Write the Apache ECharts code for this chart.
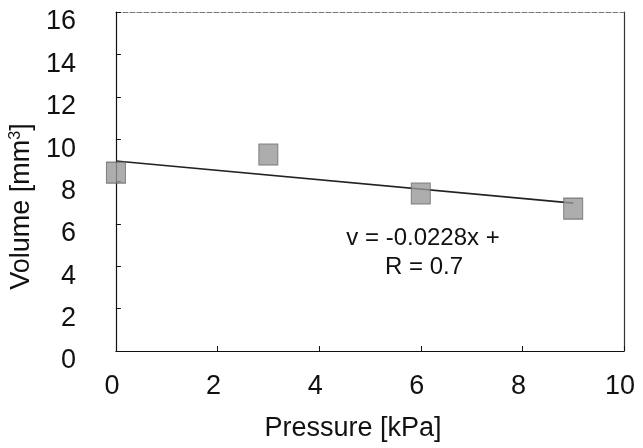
<!DOCTYPE html>
<html>
<head>
<meta charset="utf-8">
<script src="https://cdn.jsdelivr.net/npm/echarts@6/dist/echarts.min.js"></script>
<style>
  html, body { margin: 0; padding: 0; background: #fff; }
  #chart { width: 643px; height: 448px; }
</style>
</head>
<body>
<div id="chart"></div>
<script>
// measured points
const pressure = [0, 3, 6, 9];
const volume = [8.42, 9.27, 7.43, 6.72];

// trend line as drawn (end points)
const fitX = [0, 9];
const fitY = [8.97, 6.98];

const xTicks = [0, 2, 4, 6, 8, 10];
const yTicks = [0, 2, 4, 6, 8, 10, 12, 14, 16];

const eqLine1 = 'v = -0.0228x +';
const eqLine2 = 'R = 0.7';

const FONT = '"Liberation Sans", Arial, sans-serif';

const chart = echarts.init(document.getElementById('chart'), null, { renderer: 'canvas' });

const baseAxisLine = { show: true, onZero: false, lineStyle: { color: '#111', width: 1.2 } };

chart.setOption({
  animation: false,
  backgroundColor: '#fff',
  grid: { left: 115, right: 19, top: 12, bottom: 97 },
  xAxis: [{
    type: 'value', min: xTicks[0], max: xTicks[xTicks.length - 1], interval: 2,
    name: 'Pressure [kPa]', nameLocation: 'middle', nameGap: 64,
    nameTextStyle: { fontFamily: FONT, fontSize: 27, color: '#111', padding: [0, 34, 0, 0] },
    axisLine: baseAxisLine,
    axisTick: { show: true, inside: true, length: 5, lineStyle: { color: '#111' } },
    splitLine: { show: false },
    axisLabel: { fontFamily: FONT, fontSize: 27, color: '#111', margin: 22, padding: [0, 8, 0, 0] }
  }, {
    type: 'value', position: 'top', min: 0, max: 10,
    axisLine: { show: true, onZero: false, lineStyle: { color: '#777', width: 1, type: [5, 2] } },
    axisTick: { show: false }, axisLabel: { show: false }, splitLine: { show: false }
  }],
  yAxis: [{
    type: 'value', min: yTicks[0], max: yTicks[yTicks.length - 1], interval: 2,
    name: '{n|Volume [mm}{s|3}{n|]}', nameLocation: 'middle', nameGap: 74, nameRotate: 90,
    nameTextStyle: {
      padding: [0, 50, 0, 0],
      rich: {
        n: { fontFamily: FONT, fontSize: 27, color: '#111' },
        s: { fontFamily: FONT, fontSize: 16, color: '#111', verticalAlign: 'top', padding: [0, 0, 10, 0] }
      }
    },
    axisLine: baseAxisLine,
    axisTick: { show: true, inside: true, length: 5, lineStyle: { color: '#111' } },
    splitLine: { show: false },
    axisLabel: { fontFamily: FONT, fontSize: 27, lineHeight: 20, verticalAlign: 'top', color: '#111', margin: 40 }
  }, {
    type: 'value', position: 'right', min: 0, max: 16,
    axisLine: { show: true, onZero: false, lineStyle: { color: '#333', width: 1.2 } },
    axisTick: { show: false }, axisLabel: { show: false }, splitLine: { show: false }
  }],
  series: [{
    name: 'fit', type: 'line', xAxisIndex: 0, yAxisIndex: 0,
    data: fitX.map((x, i) => [x, fitY[i]]),
    symbol: 'none', z: 2,
    lineStyle: { color: '#222', width: 1.6 }
  }, {
    name: 'volume', type: 'scatter', xAxisIndex: 0, yAxisIndex: 0,
    data: pressure.map((x, i) => [x, volume[i]]),
    symbol: 'rect', symbolSize: [19, 21], z: 3,
    itemStyle: { color: '#999', borderColor: '#666', borderWidth: 1 }
  }],
  graphic: [{
    type: 'text', x: 423, y: 238,
    style: { text: eqLine1, fontFamily: FONT, fontSize: 24, fill: '#111', align: 'center', verticalAlign: 'middle' }
  }, {
    type: 'text', x: 424, y: 267,
    style: { text: eqLine2, fontFamily: FONT, fontSize: 24, fill: '#111', align: 'center', verticalAlign: 'middle' }
  }]
});

window.addEventListener('resize', () => chart.resize());
</script>
</body>
</html>
